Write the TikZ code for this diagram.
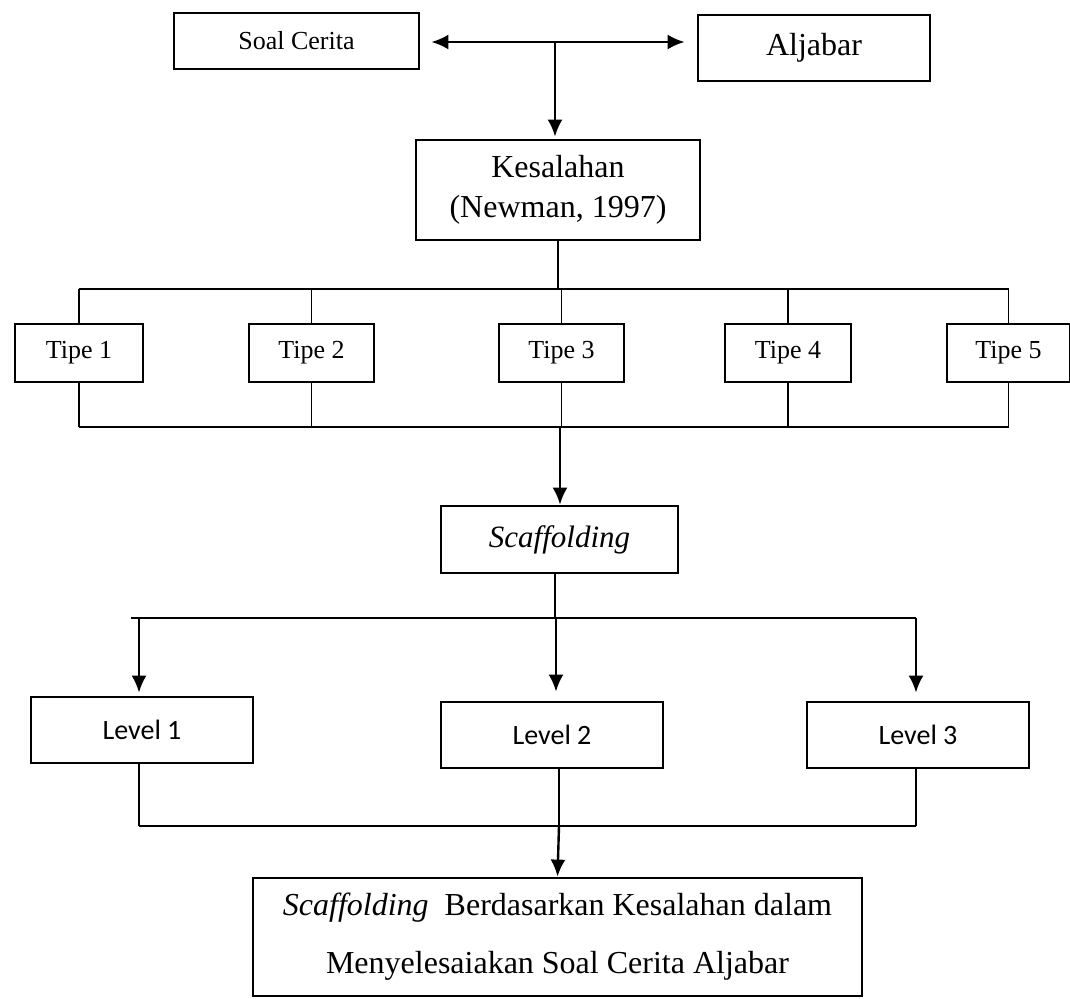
\documentclass[tikz,border=0pt]{standalone}
\usepackage{fontspec}
\setmainfont{Liberation Serif}
\newfontfamily\calibrifont{Carlito}
\usetikzlibrary{arrows.meta}

\begin{document}
\begin{tikzpicture}[x=1pt, y=-1pt,
  box/.style={draw, line width=2.8pt, rectangle, inner sep=0pt, align=center},
  link/.style={line width=1.4pt},
  arr/.style={line width=2.4pt, -{Latex[length=17pt,width=15pt]}},
  serif26/.style={font=\fontsize{26}{31}\selectfont},
  serif32/.style={font=\fontsize{32}{40}\selectfont},
  lvl/.style={font=\calibrifont\fontsize{28}{33}\selectfont},
]
\useasboundingbox (0,0) rectangle (1070,998);

% top row
\node[box, serif26, minimum width=245pt, minimum height=56pt] (soal) at (296.5,41) {Soal Cerita};
\node[box, serif32, minimum width=232pt, minimum height=66pt] (aljabar) at (814,48) {Aljabar};
\node[box, serif32, minimum width=284pt, minimum height=100pt] (kes) at (558,190) {Kesalahan\\(Newman, 1997)};

\coordinate (j) at (555,42);
\draw[arr, shorten >=11pt] (j) -- (j -| soal.east);
\draw[arr, shorten >=12pt] (j) -- (j -| aljabar.west);
\draw[arr, shorten >=2pt] (j) -- (j |- kes.north);

% error types
\foreach \n/\cx/\w in {1/79/128, 2/311.5/125, 3/561.5/125, 4/788/126, 5/1008.5/123}
  \node[box, serif26, minimum width=\w pt, minimum height=58pt] (t\n) at (\cx,353) {Tipe \n};

\coordinate (busA) at (558,289);
\coordinate (busB) at (560,427);

\draw[link] (kes.south) -- (busA);
\draw[link] (t1.north |- busA) -- (t5.north |- busA);
\draw[link] (t1.south |- busB) -- (t5.south |- busB);
\foreach \n in {1,...,5}{
  \draw[link] (t\n.north) -- (t\n.north |- busA);
  \draw[link] (t\n.south) -- (t\n.south |- busB);
}

% scaffolding
\node[box, minimum width=237pt, minimum height=67pt, font=\fontsize{31}{36}\selectfont\itshape] (scaf) at (559.5,539.5) {Scaffolding};
\draw[arr] (busB) -- (busB |- scaf.north);

\coordinate (busC) at (555,618);
\coordinate (busCl) at (131,618);
\coordinate (busCr) at (916,618);
\draw[link] (busC |- scaf.south) -- (busC);
\draw[link] (busCl) -- (busCr);

% levels
\node[box, lvl, minimum width=222pt, minimum height=66pt] (l1) at (142,730) {Level 1};
\node[box, lvl, minimum width=222pt, minimum height=66pt] (l2) at (552,735) {Level 2};
\node[box, lvl, minimum width=222pt, minimum height=66pt] (l3) at (918,735) {Level 3};

\coordinate (c1) at (139,618);
\coordinate (c2) at (556,618);
\coordinate (c3) at (916,618);
\draw[arr, shorten >=3pt] (c1) -- (c1 |- l1.north);
\draw[arr, shorten >=9pt] (c2) -- (c2 |- l2.north);
\draw[arr, shorten >=8pt] (c3) -- (c3 |- l3.north);

\coordinate (busD) at (559,826);
\coordinate (busDl) at (139,826);
\coordinate (busDr) at (916,826);
\draw[link] (l1.south -| busDl) -- (busDl);
\draw[link] (l2.south -| busD) -- (busD);
\draw[link] (l3.south -| busDr) -- (busDr);
\draw[link] (busDl) -- (busDr);

% result
\node[box, minimum width=609pt, minimum height=118pt, font=\fontsize{32}{58}\selectfont] (hasil) at (557.5,937)
  {\textit{Scaffolding}~ Berdasarkan Kesalahan dalam\\Menyelesaiakan Soal Cerita Aljabar};
\draw[arr] (busD) -- (hasil.north);
\end{tikzpicture}
\end{document}
